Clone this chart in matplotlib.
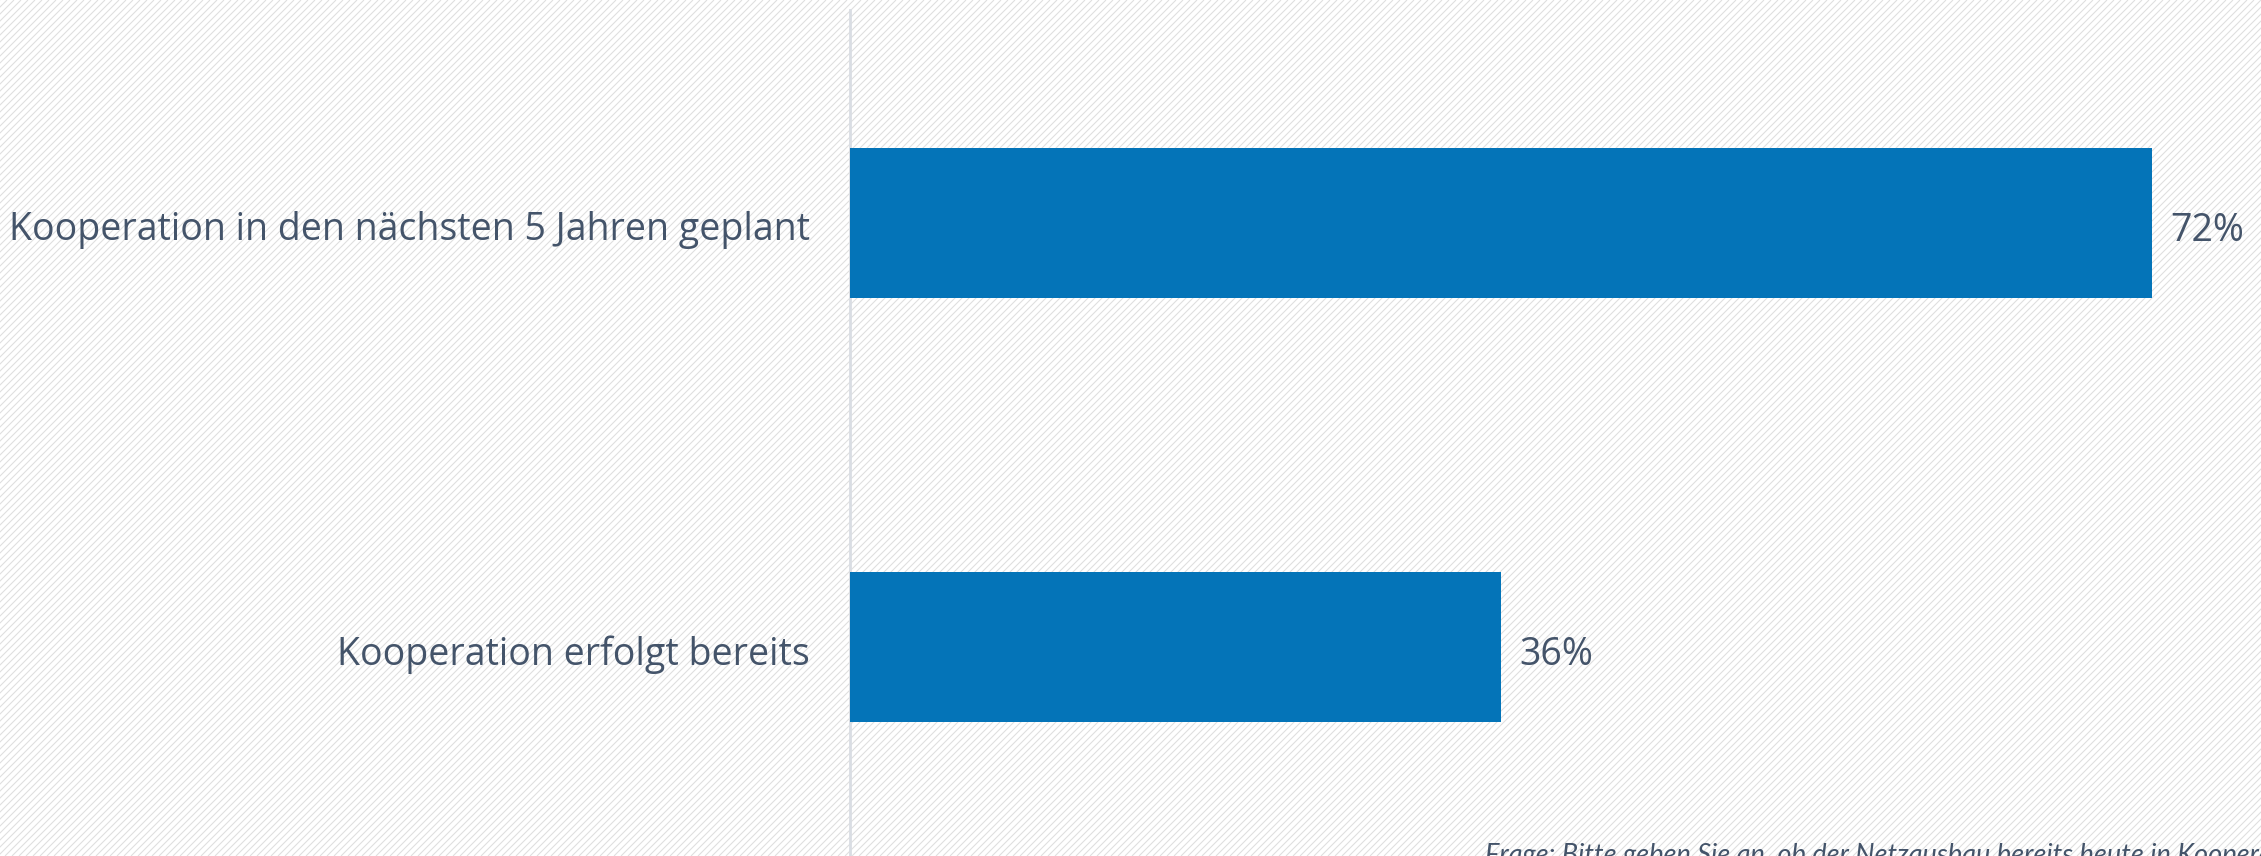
import matplotlib.pyplot as plt
import matplotlib.transforms as mtransforms
from matplotlib.collections import LineCollection

categories = ['Kooperation erfolgt bereits', 'Kooperation in den nächsten 5 Jahren geplant']
values = [36, 72]
value_labels = ['36%', '72%']
footnote = 'Frage: Bitte geben Sie an, ob der Netzausbau bereits heute in Kooperation erfolgt oder geplant ist.'

text_color = '#44546A'
bar_color = '#0474B8'

W, H = 2261, 856
fig = plt.figure(figsize=(W / 100, H / 100), dpi=100)
fig.patch.set_facecolor('white')

# diagonal stripe background (decoration), spacing ~7 px
step = 7
segs = []
for x0 in range(-H, W + step, step):
    segs.append([(x0, 0), (x0 + H, H)])
stripes = LineCollection(segs, colors='#DEDEDE', linewidths=0.75,
                         transform=mtransforms.IdentityTransform(), zorder=-10)
fig.add_artist(stripes)

ax = fig.add_axes([850 / W, 0, 1 - 850 / W, (H - 10) / H])
ax.patch.set_alpha(0)

y = list(range(len(categories)))
ax.barh(y, values, height=0.354, color=bar_color, zorder=3)

for yi, v, lab in zip(y, values, value_labels):
    ax.annotate(lab, (v, yi), xytext=(13, -6), textcoords='offset points',
                va='center', ha='left', fontsize=27, color=text_color,
                family='Open Sans')

ax.set_xlim(0, 78)
ax.set_ylim(-0.493, 1.502)
ax.set_yticks(y)
ax.set_yticklabels(categories, fontsize=27, color=text_color, family='Open Sans')
ax.tick_params(axis='y', length=0, pad=29)
shift = mtransforms.ScaledTranslation(0, -3 / 100, fig.dpi_scale_trans)
for t in ax.get_yticklabels():
    t.set_transform(t.get_transform() + shift)
ax.set_xticks([])

for s in ['top', 'right', 'bottom']:
    ax.spines[s].set_visible(False)
ax.spines['left'].set_color('#D9DDE3')
ax.spines['left'].set_linewidth(2)

fig.text(1485 / W, (H - 843) / H, footnote, ha='left', va='top',
         fontsize=19.5, style='italic', color=text_color, family='Lato')

fig.savefig('out.png', dpi=100)
